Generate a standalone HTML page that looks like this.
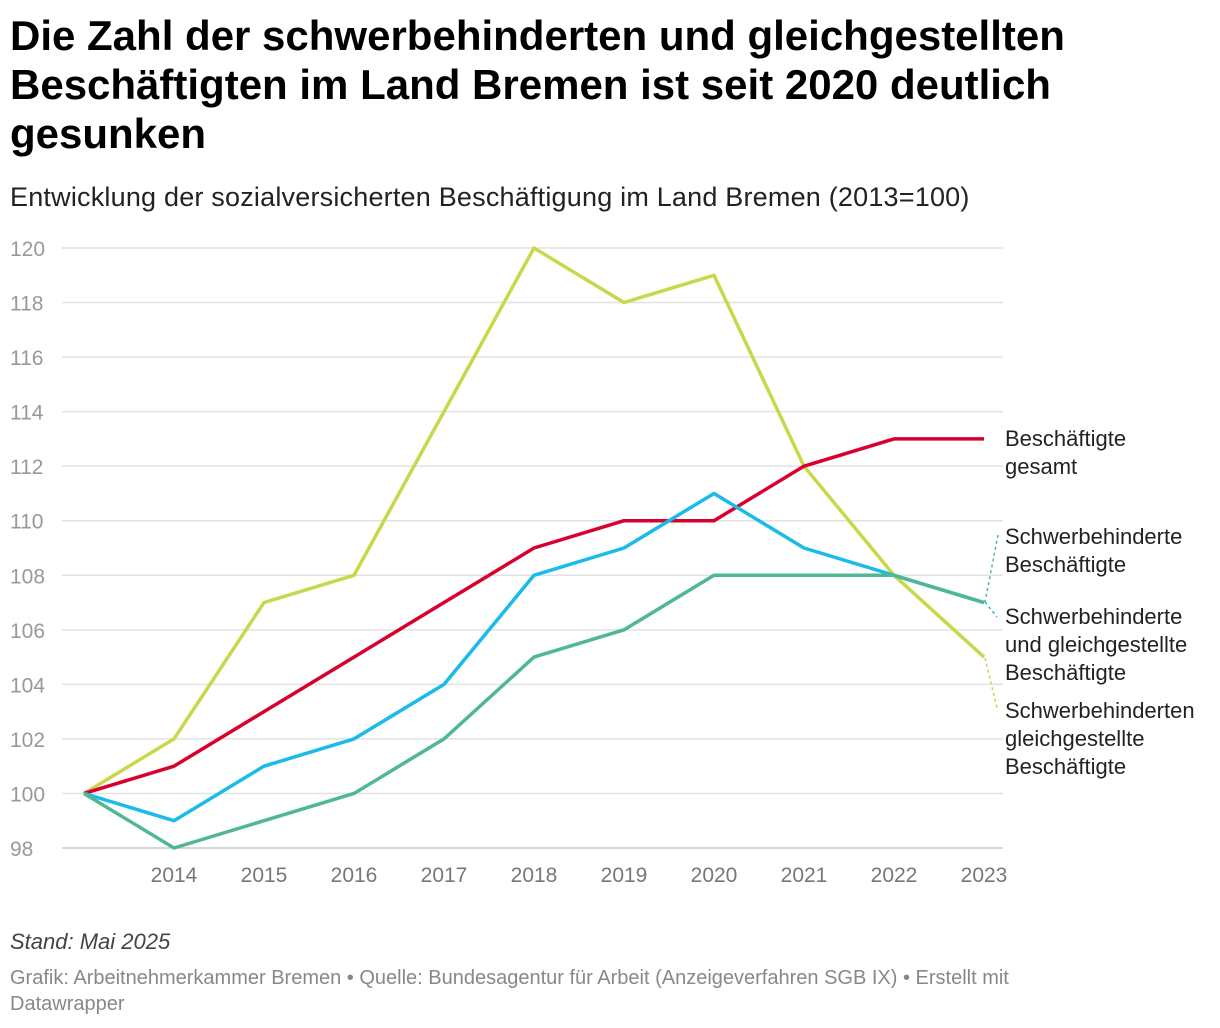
<!DOCTYPE html>
<html><head><meta charset="utf-8"><style>
body{margin:0;background:#fff;font-family:"Liberation Sans",sans-serif;width:1220px;height:1028px;overflow:hidden;position:relative}
h1{position:absolute;left:10px;top:11px;margin:0;font-size:42px;line-height:49px;font-weight:bold;color:#000;width:1080px}
.sub{position:absolute;left:10px;top:182px;font-size:27px;letter-spacing:0.2px;color:#222}
.note{position:absolute;left:10px;top:929px;font-size:22px;font-style:italic;color:#444}
.src{position:absolute;left:10px;top:965px;font-size:20px;color:#888;line-height:26px;width:1100px}
</style></head><body>
<h1>Die Zahl der schwerbehinderten und gleichgestellten Beschäftigten im Land Bremen ist seit 2020 deutlich gesunken</h1>
<div class="sub">Entwicklung der sozialversicherten Beschäftigung im Land Bremen (2013=100)</div>
<svg id="chart" width="1220" height="1028" style="position:absolute;left:0;top:0"></svg>
<div class="note">Stand: Mai 2025</div>
<div class="src">Grafik: Arbeitnehmerkammer Bremen • Quelle: Bundesagentur für Arbeit (Anzeigeverfahren SGB IX) • Erstellt mit Datawrapper</div>
<script>
const years=[2013,2014,2015,2016,2017,2018,2019,2020,2021,2022,2023];
const yTicks=[98,100,102,104,106,108,110,112,114,116,118,120];
const gesamt=[100,101,103,105,107,109,110,110,112,113,113];
const sbGleich=[100,99,101,102,104,108,109,111,109,108,107];
const sb=[100,98,99,100,102,105,106,108,108,108,107];
const gleich=[100,102,107,108,114,120,118,119,112,108,105];
const NS='http://www.w3.org/2000/svg';
const svg=document.getElementById('chart');
const x=v=>84+(v-2013)*90;
const y=v=>848-(v-98)*600/22;
function el(t,a){const e=document.createElementNS(NS,t);for(const k in a)e.setAttribute(k,a[k]);svg.appendChild(e);return e;}
yTicks.forEach(t=>{
 const l=el('line',{x1:62,x2:1003,y1:y(t),y2:y(t),stroke:t===98?'#ccc':'#e2e2e2','stroke-width':1.5});
 
 
 const tx=el('text',{x:10,y:y(t)+8,'font-size':21,fill:'#999','font-family':'Liberation Sans'});
 tx.textContent=t;
 
 
});
years.slice(1).forEach(yr=>{
 const tx=el('text',{x:x(yr),y:882,'font-size':21,fill:'#777','text-anchor':'middle','font-family':'Liberation Sans'});
 tx.textContent=yr;
 
 
});
function line(d,c,name){
 const p=el('polyline',{points:d.map((v,i)=>x(years[i])+','+y(v)).join(' '),fill:'none',stroke:c,'stroke-width':3.5,'stroke-linejoin':'round'});
 
 
}
line(gleich,'#c9d84a','line-gleichgestellte');
line(gesamt,'#d8002f','line-gesamt');
line(sbGleich,'#19bbea','line-schwerbehinderte-und-gleichgestellte');
line(sb,'#4fb892','line-schwerbehinderte');
function lead(x1,y1,x2,y2,c){const l=el('line',{x1,y1,x2,y2,stroke:c,'stroke-width':1.5,'stroke-dasharray':'3,3'});}
lead(998,535,985,602,'#4fb892');
lead(985,602,997,617,'#19bbea');
lead(985,658,997,708,'#c9d84a');
function lab(lines,ty,name){
 const t=el('text',{x:1005,y:ty,'font-size':22,fill:'#222','font-family':'Liberation Sans'});
 
 
 lines.forEach((s,i)=>{const ts=document.createElementNS(NS,'tspan');ts.setAttribute('x',1005);ts.setAttribute('dy',i?28:0);ts.textContent=s;t.appendChild(ts);});
}
lab(['Beschäftigte','gesamt'],446,'label-gesamt');
lab(['Schwerbehinderte','Beschäftigte'],544,'label-schwerbehinderte');
lab(['Schwerbehinderte','und gleichgestellte','Beschäftigte'],624,'label-schwerbehinderte-und-gleichgestellte');
lab(['Schwerbehinderten','gleichgestellte','Beschäftigte'],718,'label-gleichgestellte');
</script>
</body></html>
